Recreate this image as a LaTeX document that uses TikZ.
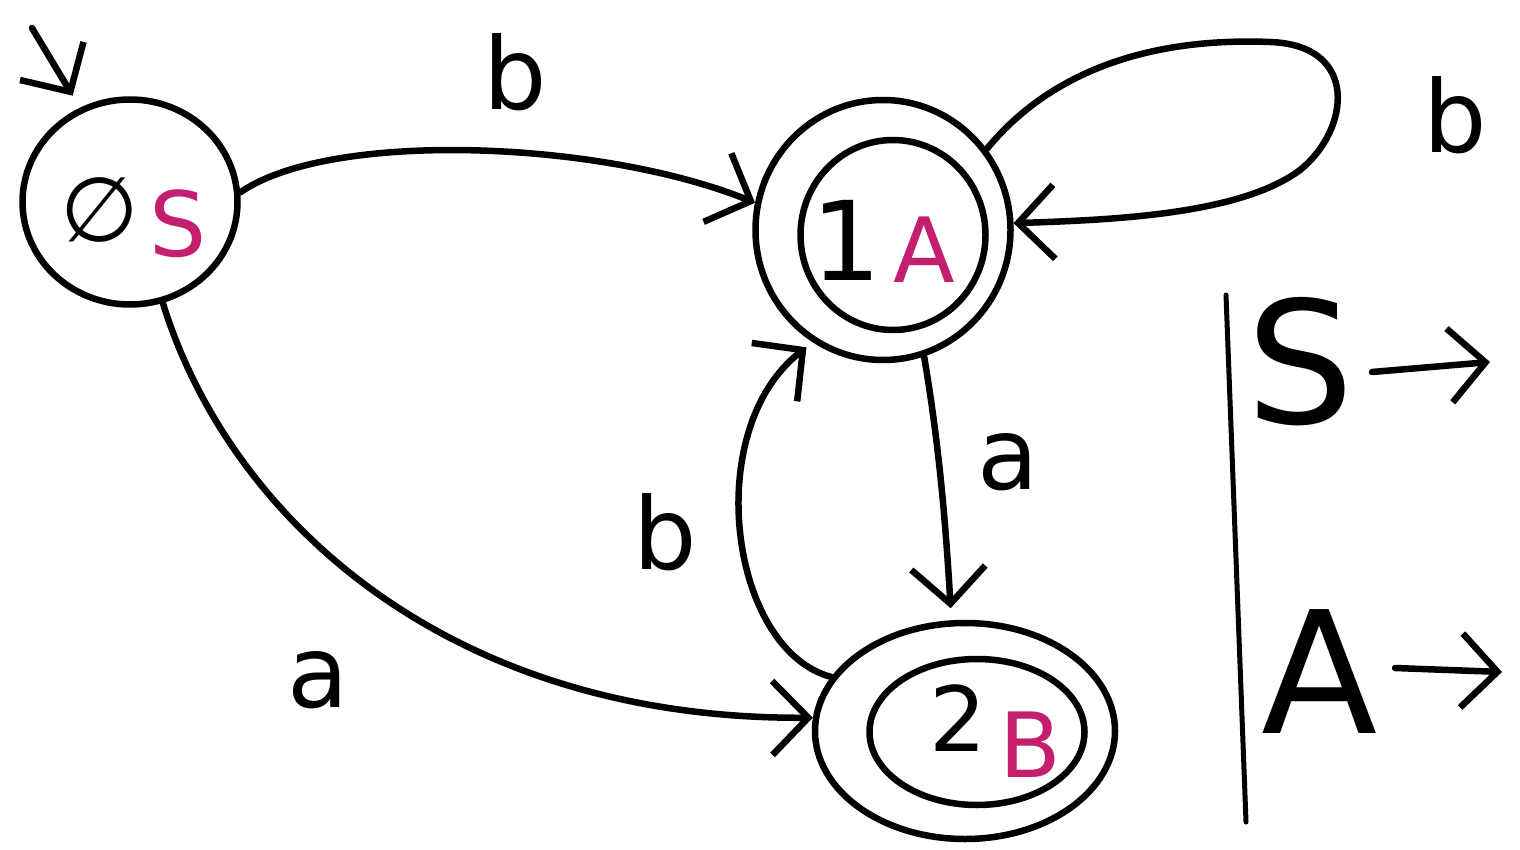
\documentclass[tikz,border=0pt]{standalone}
\usepackage{fontspec}
\setmainfont{DejaVu Sans}
\usetikzlibrary{arrows.meta,shapes.geometric}
\definecolor{ink}{RGB}{196,30,110}
\tikzset{
  stroke/.style={line width=6.5pt, line cap=round, line join=round},
  arr/.style={stroke, -{Straight Barb[length=36pt,width=74pt]}},
  st/.style={draw, stroke, ellipse, inner sep=0pt},
  lbl/.style={font=\fontsize{100}{110}\selectfont, inner sep=0pt},
  inl/.style={font=\fontsize{90}{100}\selectfont, inner sep=0pt},
  big/.style={font=\fontsize{170}{180}\selectfont, inner sep=0pt}
}
\begin{document}
\begin{tikzpicture}[x=1pt,y=-1pt]
\useasboundingbox (0,0) rectangle (1520,850);
% states
\node[st, minimum width=215pt, minimum height=205pt] (S) at (130,202) {};
\node[st, minimum width=255pt, minimum height=260pt] (A) at (883,230) {};
\node[st, minimum width=185pt, minimum height=190pt] (Ain) at (893,235) {};
\node[st, minimum width=300pt, minimum height=216pt] (B) at (965,731) {};
\node[st, minimum width=215pt, minimum height=146pt] (Bin) at (977,732) {};
% state contents
\node[inl] (s0) at (100,210) {∅};
\node[inl, text=ink] (s1) at (178,224) {S};
\node[inl, font=\fontsize{110}{110}\selectfont] (a0) at (846,240) {1};
\node[inl, text=ink] (a1) at (924,250) {A};
\node[inl] (b0) at (958,718) {2};
\node[inl, text=ink] (b1) at (1030,745) {B};
% initial arrow
\coordinate (init) at (32,28);
\draw[arr, shorten >=14pt] (init) -- (S.118);
% S -> A
\draw[arr] (S.5) .. controls (330,130) and (600,140) .. (A.168);
\node[lbl] (lb1) at (515,72) {b};
% S -> B
\draw[arr] (S.-72) .. controls (230,520) and (450,720) .. (B.175);
\node[lbl] (la1) at (318,680) {a};
% A self loop
\coordinate (l1) at (1270,42);
\coordinate (l2) at (1300,170);
\draw[stroke] (A.38) .. controls (1060,60) and (1170,38) .. (l1)
  .. controls (1360,45) and (1350,130) .. (l2);
\draw[arr] (l2) .. controls (1240,215) and (1110,220) .. (A.3);
\node[lbl] (lb2) at (1455,115) {b};
% A -> B
\draw[arr, shorten >=12pt] (A.-72) .. controls (940,450) and (946,530) .. (B.97);
\node[lbl] (la2) at (1008,462) {a};
% B -> A
\draw[arr, shorten >=8pt] (B.158) .. controls (730,650) and (700,430) .. (A.-122);
\node[lbl] (lb3) at (665,532) {b};
% side notes
\coordinate (v1) at (1226,295);
\coordinate (v2) at (1246,822);
\draw[stroke, line width=5pt] (v1) -- (v2);
\node[big] (nS) at (1300,362) {S};
\coordinate (sa) at (1372,372);
\coordinate (sb) at (1490,362);
\draw[arr] (sa) -- (sb);
\node[big] (nA) at (1320,672) {A};
\coordinate (aa) at (1395,668);
\coordinate (ab) at (1502,672);
\draw[arr] (aa) -- (ab);
\end{tikzpicture}
\end{document}
